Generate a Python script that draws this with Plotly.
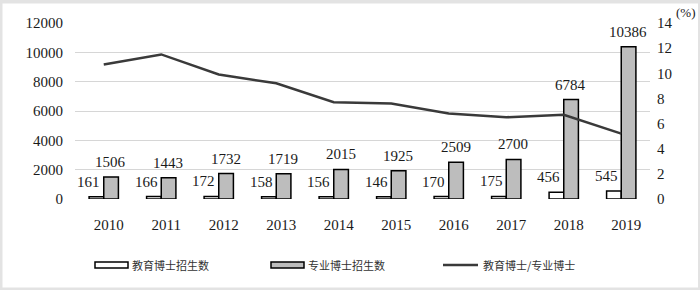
import plotly.graph_objects as go

years = ["2010", "2011", "2012", "2013", "2014", "2015", "2016", "2017", "2018", "2019"]
edu_doctor = [161, 166, 172, 158, 156, 146, 170, 175, 456, 545]
prof_doctor = [1506, 1443, 1732, 1719, 2015, 1925, 2509, 2700, 6784, 10386]
ratio_pct = [10.7, 11.5, 9.9, 9.2, 7.7, 7.6, 6.8, 6.5, 6.7, 5.2]
left_ticks = [0, 2000, 4000, 6000, 8000, 10000, 12000]
right_ticks = [0, 2, 4, 6, 8, 10, 12, 14]
legend_names = ["教育博士招生数", "专业博士招生数", "教育博士/专业博士"]

W, H = 700, 290
L, R, T, B = 75, 50, 23, 91
PW, PH = W - L - R, H - T - B

def px(x):
    return (x - L) / PW

def py(y):
    return (H - B - y) / PH

SERIF = "'Liberation Serif', 'Times New Roman', Times, serif"
CJK = "'Noto Sans CJK SC', sans-serif"
TXT = "#1a1a1a"

fig = go.Figure()
fig.add_trace(go.Bar(x=years, y=edu_doctor, name=legend_names[0],
                     marker=dict(color="white", line=dict(color="black", width=1.5)),
                     showlegend=False))
fig.add_trace(go.Bar(x=years, y=prof_doctor, name=legend_names[1],
                     marker=dict(color="#bdbdbd", line=dict(color="black", width=1.5)),
                     showlegend=False))
fig.add_trace(go.Scatter(x=years, y=ratio_pct, name=legend_names[2], yaxis="y2",
                         mode="lines", line=dict(color="#3a3a3a", width=2.5),
                         showlegend=False))

annotations = []
for i, v in enumerate(edu_doctor):
    annotations.append(dict(x=i, y=v, text=str(v), showarrow=False, xref="x", yref="y",
                            yanchor="bottom", xanchor="center", xshift=-15, yshift=5,
                            font=dict(family=SERIF, size=15, color=TXT)))
for i, v in enumerate(prof_doctor):
    annotations.append(dict(x=i, y=v, text=str(v), showarrow=False, xref="x", yref="y",
                            yanchor="bottom", xanchor="center", xshift=7, yshift=5,
                            font=dict(family=SERIF, size=15, color=TXT)))
annotations.append(dict(x=px(674), y=py(13), xref="paper", yref="paper", text="(%)",
                        showarrow=False, xanchor="left", yanchor="middle",
                        font=dict(family=SERIF, size=13, color=TXT)))

shapes = [
    dict(type="rect", xref="paper", yref="paper", layer="below",
         x0=px(2.5), x1=px(698), y0=py(3.5), y1=py(287.5),
         fillcolor="white", line=dict(width=0)),
]

# legend (manual)
leg_y = 265
legend_items = [
    ("rect", 95, 128, "white", 130, legend_names[0]),
    ("rect", 271, 304, "#bdbdbd", 306, legend_names[1]),
    ("line", 443, 478, "#3a3a3a", 481, legend_names[2]),
]
for kind, x0, x1, col, tx, label in legend_items:
    if kind == "rect":
        shapes.append(dict(type="rect", xref="paper", yref="paper",
                           x0=px(x0), x1=px(x1), y0=py(leg_y + 3), y1=py(leg_y - 3),
                           fillcolor=col, line=dict(color="black", width=1.5)))
    else:
        shapes.append(dict(type="line", xref="paper", yref="paper",
                           x0=px(x0), x1=px(x1), y0=py(leg_y), y1=py(leg_y),
                           line=dict(color=col, width=2.5)))
    annotations.append(dict(x=px(tx), y=py(leg_y), xref="paper", yref="paper", text=label,
                            showarrow=False, xanchor="left", yanchor="middle",
                            font=dict(family=CJK, size=11, color="#333")))

fig.update_layout(
    width=W, height=H,
    margin=dict(l=L, r=R, t=T, b=B, autoexpand=False),
    paper_bgcolor="#e3e3e3",
    plot_bgcolor="rgba(0,0,0,0)",
    barmode="group", bargap=0.49, bargroupgap=0,
    font=dict(family=SERIF, size=15, color=TXT),
    xaxis=dict(type="category", range=[-0.5, len(years) - 0.5], autorange=False,
               automargin=False, showgrid=False, showline=False, zeroline=False,
               tickfont=dict(family=SERIF, size=15, color=TXT),
               ticklabelstandoff=15, ticklabelshift=5),
    yaxis=dict(range=[0, 12000], autorange=False, automargin=False,
               tickvals=left_ticks, tickformat="d",
               showgrid=True, gridcolor="#d6d6d6", gridwidth=1, zeroline=False, showline=False,
               tickfont=dict(family=SERIF, size=15, color=TXT),
               ticklabelstandoff=11),
    yaxis2=dict(range=[0, 14], autorange=False, automargin=False,
                tickvals=right_ticks, overlaying="y",
                side="right", showgrid=False, zeroline=False, showline=False,
                tickfont=dict(family=SERIF, size=15, color=TXT),
                ticklabelstandoff=6),
    shapes=shapes,
    annotations=annotations,
    showlegend=False,
)

fig.write_html("out.html", config={"displayModeBar": False},
               post_script="document.body.style.margin='0';document.body.style.overflow='hidden';")
